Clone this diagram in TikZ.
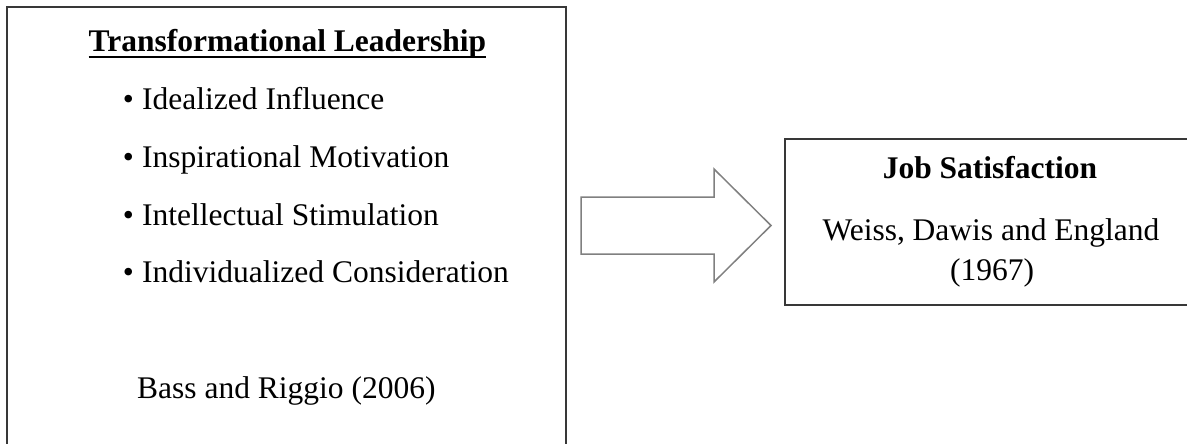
\documentclass[tikz,border=0pt]{standalone}
\usepackage{fontspec}
\setmainfont{Liberation Serif}
\usetikzlibrary{calc}
\begin{document}
\begin{tikzpicture}[x=1pt,y=-1pt,
  boxframe/.style={draw=black!78, line width=2pt, inner sep=0pt, rectangle},
  txt/.style={inner sep=0pt, text=black, font=\fontsize{31.5}{40}\selectfont},
  blockarrow/.style={draw=black!50, line width=1.5pt, fill=white, line join=miter}]
\useasboundingbox (0,0) rectangle (1187,444);
\clip (0,0) rectangle (1187,444);
% boxes
\node[boxframe, minimum width=559pt, minimum height=453pt] (lbox) at (286.5,233.5) {};
\node[boxframe, minimum width=415pt, minimum height=166pt] (rbox) at (992.5,222) {};
% left box text
\node[txt, anchor=base, font=\fontsize{31.5}{40}\selectfont\bfseries] (title) at (287.5,52) {Transformational Leadership};
\draw[line width=2pt, black] ([yshift=-5pt]title.base west) -- ([yshift=-5pt]title.base east);
\node[txt, anchor=base] (b1) at (128.5,110) {•};
\node[txt, anchor=base west] (i1) at (142,110) {Idealized Influence};
\node[txt, anchor=base] (b2) at (128.5,167.5) {•};
\node[txt, anchor=base west] (i2) at (142,167.5) {Inspirational Motivation};
\node[txt, anchor=base] (b3) at (128.5,225) {•};
\node[txt, anchor=base west] (i3) at (142,225) {Intellectual Stimulation};
\node[txt, anchor=base] (b4) at (128.5,282) {•};
\node[txt, anchor=base west] (i4) at (142,282) {Individualized Consideration};
\node[txt, anchor=base west] (bass) at (137,398) {Bass and Riggio (2006)};
% right box text
\node[txt, anchor=base, font=\fontsize{31.5}{40}\selectfont\bfseries] (job) at (990,178) {Job Satisfaction};
\node[txt, anchor=base] (weiss) at (991,240) {Weiss, Dawis and England};
\node[txt, anchor=base] (year) at (992,280) {(1967)};
% block arrow between the boxes
\coordinate (tail) at (581,225.5);
\coordinate (tip) at (771,225.5);
\draw[blockarrow] ($(tail)+(0,-28.5)$) -- (714,197) -- (714,169) -- (tip)
  -- (714,282) -- (714,254) -- ($(tail)+(0,28.5)$) -- cycle;
\end{tikzpicture}
\end{document}
